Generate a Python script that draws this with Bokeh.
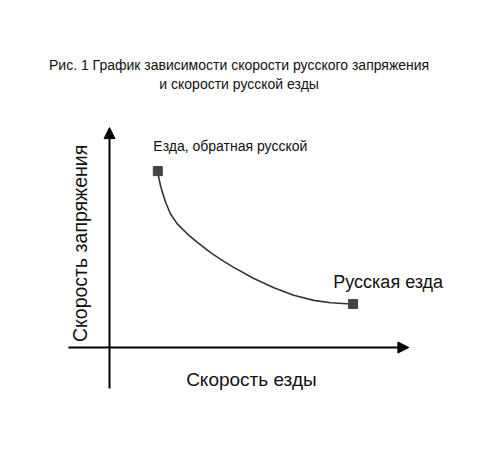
from bokeh.plotting import figure
from bokeh.models import Arrow, NormalHead, Label, Range1d
from bokeh.embed import file_html
from bokeh.resources import INLINE
import math

# Data (schematic curve)
curve_x = [1.61, 1.64, 1.70, 1.76, 1.87, 2.03, 2.26, 2.59, 2.92, 3.37, 3.81, 4.14,
           4.81, 5.48, 6.14, 6.81, 7.37, 7.92, 8.12]
curve_y = [5.88, 5.68, 5.40, 5.18, 4.84, 4.46, 4.12, 3.79, 3.51, 3.16, 2.87, 2.67,
           2.30, 1.99, 1.74, 1.57, 1.49, 1.46, 1.45]
end_labels = ["Езда, обратная русской", "Русская езда"]
title_lines = ["Рис. 1 График зависимости скорости русского запряжения",
               "и скорости русской езды"]
x_label = "Скорость езды"
y_label = "Скорость запряжения"

FONT = "Liberation Sans"

W, H = 464, 438
SC = 30.0          # pixels per data unit
OX, OY = 109, 347  # origin position in canvas pixels
DY = 0.2           # text baseline correction (data units)

p = figure(width=W, height=H, output_backend="svg", toolbar_location=None,
           x_range=Range1d(-OX / SC, (W - OX) / SC),
           y_range=Range1d(-(H - OY) / SC, OY / SC),
           min_border=0, outline_line_color=None)
p.axis.visible = False
p.grid.visible = False
p.background_fill_color = "white"

# axes as arrows
p.add_layout(Arrow(end=NormalHead(size=11, fill_color="black", line_color="black"),
                   x_start=0, y_start=-1.37, x_end=0, y_end=7.33,
                   line_width=2, line_color="black"))
p.add_layout(Arrow(end=NormalHead(size=11, fill_color="black", line_color="black"),
                   x_start=-1.37, y_start=0, x_end=9.98, y_end=0,
                   line_width=2, line_color="black"))

p.line(curve_x, curve_y, line_color="#333333", line_width=1.6, line_join="round")
p.scatter([curve_x[0], curve_x[-1]], [curve_y[0], curve_y[-1]], marker="square",
          size=9, fill_color="#444444", line_color="#444444")

def lab(text, x, y, size, align="left", angle=0.0):
    p.add_layout(Label(x=x, y=y, text=text, text_font=FONT, text_font_size=f"{size}px",
                       text_align=align, text_baseline="alphabetic", angle=angle,
                       text_color="#111111"))

lab(title_lines[0], 4.32, 9.23 + DY, 14, "center")
lab(title_lines[1], 4.32, 8.57 + DY, 14, "center")
lab(end_labels[0], 1.46, 6.51 + DY, 14)
lab(end_labels[1], 7.46, 1.97 + DY, 18)
lab(x_label, 4.73, -1.27 + DY, 19, "center")
lab(y_label, -0.70 - 0.3, 3.47, 19.5, "center", angle=math.pi / 2)

open("out.html", "w").write(file_html(p, INLINE))
